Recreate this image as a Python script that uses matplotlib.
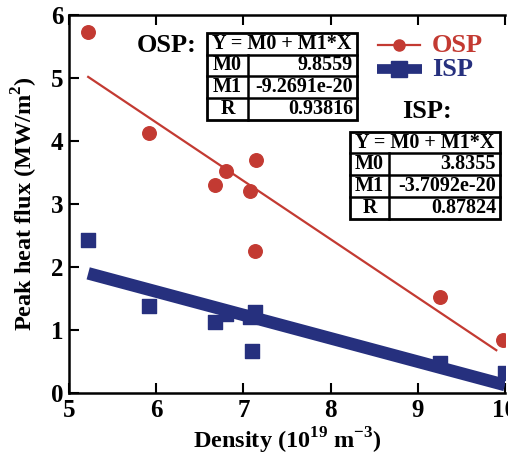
import numpy as np
import matplotlib.pyplot as plt
from matplotlib.patches import Rectangle
from matplotlib.lines import Line2D

plt.rcParams['font.family'] = ['Liberation Serif', 'DejaVu Serif']
plt.rcParams['font.weight'] = 'bold'
plt.rcParams['axes.labelweight'] = 'bold'
plt.rcParams['mathtext.fontset'] = 'custom'
plt.rcParams['mathtext.rm'] = 'Liberation Serif:bold'
plt.rcParams['mathtext.bf'] = 'Liberation Serif:bold'

# density (1e19 m^-3) and peak heat flux (MW/m^2)
osp_x = [5.22, 5.92, 6.68, 6.80, 7.08, 7.14, 7.13, 9.25, 9.98]
osp_y = [5.73, 4.13, 3.30, 3.53, 3.21, 3.70, 2.26, 1.52, 0.84]
isp_x = [5.22, 5.92, 6.68, 6.80, 7.07, 7.13, 7.10, 9.25, 10.0]
isp_y = [2.43, 1.38, 1.12, 1.25, 1.20, 1.28, 0.66, 0.48, 0.31]

osp_fit = ['9.8559', '-9.2691e-20', '0.93816']
isp_fit = ['3.8355', '-3.7092e-20', '0.87824']

red = '#C33A32'
blue = '#26307E'

W, H = 508, 455
fig = plt.figure(figsize=(W / 100, H / 100), dpi=100)
ax = fig.add_axes([69 / W, 1 - 393 / H, (505 - 69) / W, (393 - 15) / H])

ax.scatter(osp_x, osp_y, s=95, color=red, marker='o', zorder=3)
ax.scatter(isp_x, isp_y, s=105, color=blue, marker='s', zorder=3)

xs = np.array([min(osp_x), 9.9])
ax.plot(xs, float(osp_fit[0]) + float(osp_fit[1]) * 1e19 * xs, color=red, lw=1.6)
xs = np.array([min(isp_x), 10.0])
ax.plot(xs, float(isp_fit[0]) + float(isp_fit[1]) * 1e19 * xs, color=blue, lw=9, solid_capstyle='butt')

ax.set_xlim(5, 10)
ax.set_ylim(0, 6)
ax.set_xticks([5, 6, 7, 8, 9, 10])
ax.set_yticks([0, 1, 2, 3, 4, 5, 6])
ax.tick_params(direction='in', length=7, width=1.5, labelsize=18, top=True, right=False, pad=4)
for lbl in ax.get_xticklabels() + ax.get_yticklabels():
    lbl.set_fontweight('bold')
for s in ax.spines.values():
    s.set_linewidth(1.8)
ax.spines['right'].set_visible(False)
ax.set_xlabel('Density (10$^{19}$ m$^{-3}$)', fontsize=17.5, labelpad=3)
ax.set_ylabel('Peak heat flux (MW/m$^{2}$)', fontsize=17.5, labelpad=8)


def px(x, y):
    return x / W, 1 - y / H


def table(left, right, div, rows_y, values):
    tf = fig.transFigure
    top, bot = rows_y[0], rows_y[-1]
    fig.add_artist(Rectangle(px(left, bot), (right - left) / W, (bot - top) / H,
                             transform=tf, fill=False, lw=2, ec='black'))
    for yy in rows_y[1:-1]:
        fig.add_artist(Line2D([left / W, right / W], [1 - yy / H] * 2, transform=tf, color='black', lw=1.8))
    fig.add_artist(Line2D([div / W] * 2, [1 - rows_y[1] / H, 1 - bot / H], transform=tf, color='black', lw=1.8))
    cy = (rows_y[0] + rows_y[1]) / 2
    fig.text(*px((left + right) / 2, cy), 'Y = M0 + M1*X', ha='center', va='center', fontsize=14.5)
    for i, (name, val) in enumerate(zip(['M0', 'M1', 'R'], values)):
        cy = (rows_y[i + 1] + rows_y[i + 2]) / 2
        fig.text(*px((left + div) / 2, cy), name, ha='center', va='center', fontsize=14.5)
        fig.text(*px(right - 4, cy), val, ha='right', va='center', fontsize=14.5)


table(207, 357, 248, [33, 55, 76, 98, 120], osp_fit)
table(350, 500, 389, [132, 153, 175, 197, 219], isp_fit)

fig.text(*px(137, 45), 'OSP:', ha='left', va='center', fontsize=19)
fig.text(*px(402, 111), 'ISP:', ha='left', va='center', fontsize=19)

# legend
fig.add_artist(Line2D([378 / W, 399 / W, 420 / W], [1 - 45 / H] * 3, transform=fig.transFigure, color=red, lw=1.6,
                      marker='o', markevery=[1], markersize=8))
fig.add_artist(Line2D([377 / W, 399 / W, 422 / W], [1 - 69 / H] * 3, transform=fig.transFigure, color=blue, lw=7,
                      marker='s', markevery=[1], markersize=11, solid_capstyle='butt'))
fig.text(*px(432, 45), 'OSP', color=red, ha='left', va='center', fontsize=19)
fig.text(*px(432, 69), 'ISP', color=blue, ha='left', va='center', fontsize=19)

fig.savefig('out.png', dpi=100)
